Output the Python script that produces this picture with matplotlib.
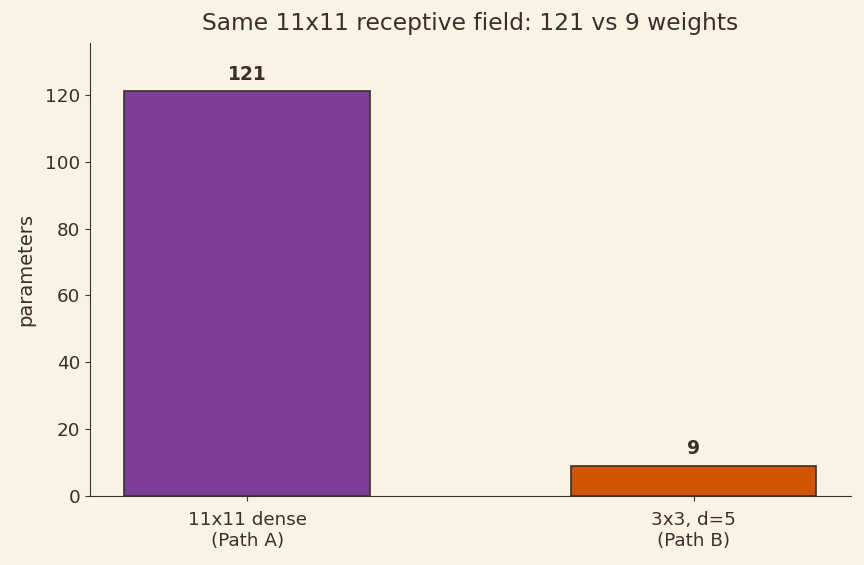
import matplotlib
matplotlib.use('Agg')
import matplotlib.pyplot as plt
import numpy as np

# data
labels = ['11x11 dense\n(Path A)', '3x3, d=5\n(Path B)']
params = [121, 9]
colors = ['#7d3c98', '#d35400']

bg = '#faf2e4'
ink = '#3b3028'

fig, ax = plt.subplots(figsize=(8.64, 5.65), dpi=100)
fig.patch.set_facecolor(bg)
ax.set_facecolor(bg)

x = np.arange(len(labels))
bars = ax.bar(x, params, width=0.55, color=colors, edgecolor=ink, linewidth=1.2)

# value labels above bars
for b, v in zip(bars, params):
    ax.text(b.get_x() + b.get_width() / 2, v + 2.3, str(v),
            ha='center', va='bottom', fontsize=13.5, fontweight='bold', color=ink)

ax.set_xticks(x)
ax.set_xticklabels(labels, linespacing=1.25)
ax.set_ylim(0, max(params) * 1.12)
ax.set_ylabel('parameters', fontsize=14, color=ink, labelpad=7)
ax.set_title('Same 11x11 receptive field: 121 vs 9 weights', fontsize=16.8, color=ink, pad=9)

for s in ['top', 'right']:
    ax.spines[s].set_visible(False)
for s in ['left', 'bottom']:
    ax.spines[s].set_color(ink)
ax.tick_params(colors=ink, labelsize=13.2)
ax.tick_params(axis='x', pad=7)

fig.subplots_adjust(left=0.104, right=0.985, top=0.924, bottom=0.122)
fig.savefig('out.png', facecolor=bg)
